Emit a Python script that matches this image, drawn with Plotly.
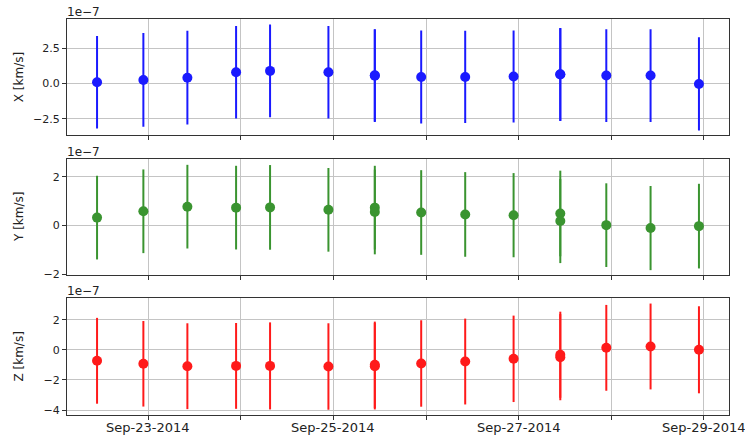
import plotly.graph_objects as go
from plotly.subplots import make_subplots

# Observation times (two duplicated epochs)
times = ["2014-09-22 10:47", "2014-09-22 22:47", "2014-09-23 10:11", "2014-09-23 22:48",
         "2014-09-24 07:36", "2014-09-24 22:43", "2014-09-25 10:44", "2014-09-25 10:44",
         "2014-09-25 22:45", "2014-09-26 10:09", "2014-09-26 22:41", "2014-09-27 10:47",
         "2014-09-27 10:47", "2014-09-27 22:42", "2014-09-28 10:10", "2014-09-28 22:42"]

# Values in units of 1e-7 km/s
x_vals = [0.10, 0.26, 0.42, 0.81, 0.90, 0.81, 0.59, 0.56, 0.47, 0.47, 0.50, 0.66, 0.64, 0.57, 0.57, -0.02]
x_err = [3.27, 3.31, 3.31, 3.27, 3.28, 3.27, 3.26, 3.27, 3.28, 3.26, 3.25, 3.28, 3.28, 3.28, 3.28, 3.30]

y_vals = [0.32, 0.58, 0.77, 0.73, 0.74, 0.64, 0.73, 0.55, 0.53, 0.45, 0.42, 0.49, 0.18, 0.01, -0.11, -0.03]
y_err = [1.72, 1.72, 1.72, 1.72, 1.74, 1.72, 1.72, 1.74, 1.74, 1.74, 1.73, 1.76, 1.73, 1.72, 1.73, 1.74]

z_vals = [-0.73, -0.93, -1.09, -1.07, -1.07, -1.11, -1.00, -1.09, -0.91, -0.78, -0.60, -0.33, -0.49, 0.13, 0.22, 0.00]
z_err = [2.85, 2.84, 2.85, 2.85, 2.89, 2.87, 2.87, 2.87, 2.87, 2.85, 2.87, 2.86, 2.86, 2.85, 2.85, 2.89]

day_ticks = ["2014-09-23", "2014-09-24", "2014-09-25", "2014-09-26", "2014-09-27", "2014-09-28", "2014-09-29"]
day_labels = ["Sep-23-2014", "", "Sep-25-2014", "", "Sep-27-2014", "", "Sep-29-2014"]

panels = [
    ("X [km/s]", x_vals, x_err, "#1a1aff", [-3.63, 4.54], [-2.5, 0, 2.5], ["\u22122.5", "0.0", "2.5"]),
    ("Y [km/s]", y_vals, y_err, "#3a9430", [-2.04, 2.73], [-2, 0, 2], ["\u22122", "0", "2"]),
    ("Z [km/s]", z_vals, z_err, "#ff1a1a", [-4.33, 3.44], [-4, -2, 0, 2], ["\u22124", "\u22122", "0", "2"]),
]

fig = make_subplots(rows=3, cols=1, shared_xaxes=False)

domains = [[0.7071, 0.999], [0.3535, 0.6465], [0.0, 0.2955]]
FONT = "DejaVu Sans"
annotations = []
for i, (label, vals, err, col, yr, tv, tt) in enumerate(panels):
    r = i + 1
    fig.add_trace(go.Scatter(
        x=times, y=vals, mode="markers",
        marker=dict(color=col, size=10, line=dict(width=0)),
        error_y=dict(type="data", array=err, visible=True, color=col, thickness=2, width=0),
        showlegend=False), row=r, col=1)
    ax = "" if r == 1 else str(r)
    fig.update_layout(**{
        "yaxis" + ax: dict(domain=domains[i], range=yr, tickvals=tv, ticktext=tt,
                           automargin=False,
                           showgrid=True, gridcolor="#c4c4c4", gridwidth=1,
                           zeroline=False, ticks="outside", ticklen=4, tickcolor="#333",
                           showline=True, mirror=True, linecolor="#333", linewidth=1,
                           tickfont=dict(family=FONT, size=11, color="#222")),
        "xaxis" + ax: dict(type="date", range=["2014-09-22 03:00", "2014-09-29 06:29"],
                           tickvals=day_ticks, ticktext=[""] * len(day_ticks),
                           automargin=False,
                           showgrid=True, gridcolor="#c4c4c4", gridwidth=1,
                           zeroline=False, ticks="outside", ticklen=4, tickcolor="#333",
                           showline=True, mirror=True, linecolor="#333", linewidth=1,
                           tickfont=dict(family=FONT, size=13, color="#222")),
    })
    yref = "y" + ax + " domain"
    annotations.append(dict(text=label, x=0, xref="paper", y=0.5, yref=yref,
                            xanchor="center", yanchor="middle", xshift=-48, textangle=-90,
                            showarrow=False, font=dict(family=FONT, size=12, color="#222")))
    annotations.append(dict(text="1e\u22127", x=0, xref="paper", y=1, yref=yref,
                            xanchor="left", yanchor="bottom", xshift=-2, yshift=-2,
                            showarrow=False, font=dict(family=FONT, size=12, color="#222")))

# Date tick labels of the bottom axis
for d, lab in zip(day_ticks, day_labels):
    if lab:
        annotations.append(dict(text=lab, x=d, xref="x3", y=0, yref="y3 domain",
                                xanchor="center", yanchor="top", yshift=-3,
                                showarrow=False, font=dict(family=FONT, size=13, color="#222")))

fig.update_layout(
    width=745, height=441,
    margin=dict(l=67, r=16, t=19, b=26),
    plot_bgcolor="white", paper_bgcolor="white",
    annotations=annotations,
    font=dict(family=FONT),
)

fig.write_html("out.html")
